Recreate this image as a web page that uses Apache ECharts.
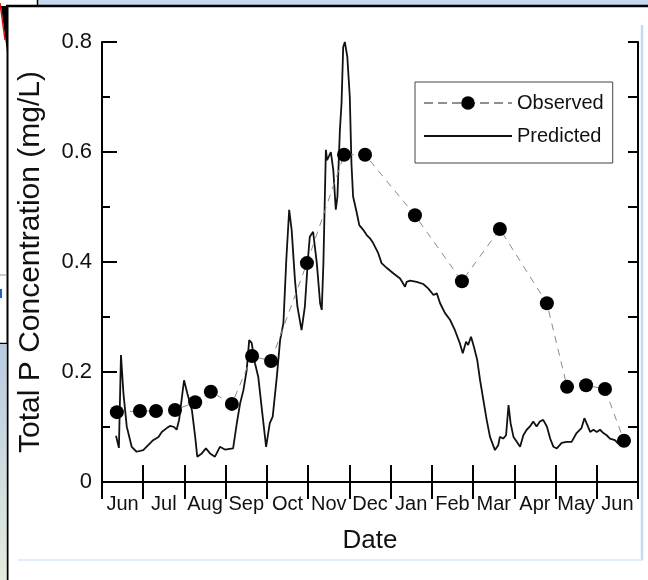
<!DOCTYPE html>
<html>
<head>
<meta charset="utf-8">
<script src="https://cdn.jsdelivr.net/npm/echarts@6/dist/echarts.min.js"></script>
<style>
  html, body { margin: 0; padding: 0; background: #fff; }
  #chart { width: 648px; height: 580px; }
</style>
</head>
<body>
<div id="chart"></div>
<script>
// Month labels along the bottom axis (one band per month)
const monthLabels = ['Jun', 'Jul', 'Aug', 'Sep', 'Oct', 'Nov', 'Dec', 'Jan', 'Feb', 'Mar', 'Apr', 'May', 'Jun'];

// Y tick values (mg/L)
const yTicks = [0, 0.2, 0.4, 0.6, 0.8];

// Observed samples: time in months since start of June, total P in mg/L
const observedMonth = [0.36, 0.92, 1.31, 1.77, 2.26, 2.64, 3.15, 3.64, 4.10, 4.97,
                       5.87, 6.38, 7.59, 8.73, 9.65, 10.79, 11.28, 11.74, 12.20, 12.66];
const observedConc  = [0.127, 0.129, 0.129, 0.131, 0.145, 0.164, 0.142, 0.229, 0.220, 0.398,
                       0.595, 0.595, 0.485, 0.365, 0.460, 0.325, 0.173, 0.176, 0.169, 0.075];

// Model prediction: time in months since start of June, total P in mg/L
const predictedMonth = [
  0.34, 0.41, 0.46, 0.52, 0.60, 0.72, 0.84, 1.00, 1.12, 1.24, 1.37, 1.45, 1.57, 1.65, 1.75, 1.81, 1.87, 1.94, 1.99, 2.07,
  2.18, 2.26, 2.31, 2.42, 2.52, 2.62, 2.74, 2.86, 2.98, 3.18, 3.27, 3.35, 3.43, 3.51, 3.57, 3.63, 3.71, 3.79, 3.87, 3.98,
  4.07, 4.14, 4.24, 4.32, 4.40, 4.47, 4.54, 4.60, 4.68, 4.74, 4.84, 4.92, 5.00, 5.04, 5.12, 5.21, 5.29, 5.33, 5.37, 5.43,
  5.46, 5.55, 5.61, 5.67, 5.71, 5.77, 5.81, 5.85, 5.89, 5.95, 6.01, 6.05, 6.09, 6.18, 6.24, 6.34, 6.42, 6.50, 6.58, 6.70,
  6.78, 6.91, 7.07, 7.23, 7.35, 7.39, 7.47, 7.63, 7.79, 7.91, 8.04, 8.12, 8.20, 8.32, 8.44, 8.56, 8.68, 8.75, 8.83, 8.88,
  8.95, 9.02, 9.10, 9.17, 9.25, 9.33, 9.41, 9.53, 9.61, 9.65, 9.73, 9.80, 9.86, 9.91, 9.98, 10.06, 10.14, 10.22, 10.30, 10.38,
  10.46, 10.54, 10.62, 10.70, 10.79, 10.87, 10.95, 11.03, 11.15, 11.27, 11.39, 11.51, 11.63, 11.70, 11.77, 11.84, 11.92, 12.00, 12.08, 12.16,
  12.24, 12.32, 12.44, 12.52, 12.64
];
const predictedConc = [
  0.084, 0.062, 0.231, 0.161, 0.101, 0.064, 0.055, 0.058, 0.067, 0.076, 0.082, 0.091, 0.098, 0.102, 0.100, 0.095, 0.113, 0.155, 0.185, 0.161,
  0.131, 0.082, 0.046, 0.052, 0.061, 0.052, 0.046, 0.064, 0.059, 0.061, 0.107, 0.143, 0.167, 0.204, 0.258, 0.253, 0.216, 0.191, 0.137, 0.064,
  0.107, 0.119, 0.191, 0.258, 0.289, 0.404, 0.495, 0.458, 0.367, 0.319, 0.276, 0.319, 0.410, 0.446, 0.455, 0.398, 0.325, 0.313, 0.398, 0.604,
  0.585, 0.600, 0.567, 0.495, 0.519, 0.640, 0.689, 0.791, 0.800, 0.773, 0.700, 0.579, 0.519, 0.489, 0.467, 0.458, 0.449, 0.443, 0.434, 0.416,
  0.398, 0.389, 0.379, 0.370, 0.355, 0.364, 0.366, 0.364, 0.360, 0.352, 0.340, 0.343, 0.325, 0.307, 0.295, 0.276, 0.252, 0.234, 0.255, 0.249,
  0.264, 0.246, 0.222, 0.185, 0.149, 0.113, 0.082, 0.058, 0.067, 0.082, 0.079, 0.085, 0.140, 0.107, 0.082, 0.073, 0.064, 0.085, 0.095, 0.101,
  0.110, 0.101, 0.110, 0.113, 0.101, 0.079, 0.064, 0.061, 0.071, 0.073, 0.073, 0.089, 0.098, 0.116, 0.104, 0.091, 0.095, 0.091, 0.095, 0.089,
  0.085, 0.079, 0.076, 0.070, 0.073
];

const FONT = '"Liberation Sans", Arial, sans-serif';
const INK = '#111';

const zip = (xs, ys) => xs.map((x, i) => [x, ys[i]]);

const chart = echarts.init(document.getElementById('chart'), null, { renderer: 'canvas' });

const frameAxis = { lineStyle: { color: '#000', width: 2 } };

chart.setOption({
  backgroundColor: '#fff',
  animation: false,
  grid: { left: 102, right: 10, top: 42, bottom: 98, containLabel: false },
  xAxis: [
    { // month bands, labels and ticks along the bottom
      type: 'category', position: 'bottom', data: monthLabels, boundaryGap: true,
      axisLine: frameAxis,
      axisTick: { show: true, inside: true, length: 17, interval: 0, lineStyle: { color: '#000', width: 2 } },
      axisLabel: { interval: 0, margin: 12, color: INK, fontFamily: FONT, fontSize: 20 },
      splitLine: { show: false },
      name: 'Date', nameLocation: 'middle', nameGap: 46,
      nameTextStyle: { color: INK, fontFamily: FONT, fontSize: 26 }
    },
    { // top frame with month ticks
      type: 'category', position: 'top', data: monthLabels, boundaryGap: true,
      axisLine: frameAxis,
      axisTick: { show: true, inside: true, length: 17, interval: 0, lineStyle: { color: '#000', width: 2 } },
      axisLabel: { show: false }, splitLine: { show: false }
    },
    { // continuous time scale in months used by the series
      type: 'value', min: 0, max: 13, show: false, position: 'bottom'
    }
  ],
  yAxis: [
    {
      type: 'value', position: 'left', min: yTicks[0], max: yTicks[yTicks.length - 1], interval: yTicks[1] - yTicks[0],
      axisLine: { show: true, lineStyle: { color: '#000', width: 2 } },
      axisTick: { show: true, inside: true, length: 15, lineStyle: { color: '#000', width: 2 } },
      minorTick: { show: true, splitNumber: 2, length: 8, lineStyle: { color: '#000', width: 2 } },
      axisLabel: {
        margin: 10, color: INK, fontFamily: FONT, fontSize: 22,
        formatter: v => (v === 0 ? '0' : v.toFixed(1))
      },
      splitLine: { show: false },
      name: 'Total P Concentration (mg/L)', nameLocation: 'middle', nameGap: 56,
      nameTextStyle: { color: INK, fontFamily: FONT, fontSize: 30 }
    },
    {
      type: 'value', position: 'right', min: 0, max: 0.8, interval: 0.1,
      axisLine: { show: true, lineStyle: { color: '#000', width: 2 } },
      axisTick: { show: true, inside: true, length: 10, lineStyle: { color: '#000', width: 2 } },
      axisLabel: { show: false }, splitLine: { show: false }
    }
  ],
  legend: {
    orient: 'vertical', left: 415, top: 82,
    padding: [11, 9, 17, 8], itemGap: 13, itemWidth: 88, itemHeight: 17,
    borderColor: '#444', borderWidth: 1, backgroundColor: '#fff',
    textStyle: { color: INK, fontFamily: FONT, fontSize: 20 },
    data: [
      { name: 'Observed', itemStyle: { color: '#000', borderWidth: 0 }, lineStyle: { color: '#222', type: [9, 5], width: 1.2 } },
      { name: 'Predicted', itemStyle: { color: 'rgba(0,0,0,0)', borderWidth: 0 }, lineStyle: { color: '#111', width: 2 } }
    ]
  },
  series: [
    {
      name: 'Predicted', type: 'line', xAxisIndex: 2, yAxisIndex: 0,
      data: zip(predictedMonth, predictedConc),
      showSymbol: false, symbol: 'circle', smooth: false, clip: false,
      lineStyle: { color: '#111', width: 1.8 }, itemStyle: { color: '#111' },
      z: 2
    },
    {
      name: 'Observed', type: 'line', xAxisIndex: 2, yAxisIndex: 0,
      data: zip(observedMonth, observedConc),
      symbol: 'circle', symbolSize: 14, showSymbol: true,
      lineStyle: { color: '#8a8a8a', width: 1, type: [7, 6] },
      itemStyle: { color: '#000', borderWidth: 0 },
      z: 3
    }
  ],
  graphic: [
    // slide frame around the figure
    { type: 'rect', shape: { x: 38, y: 0, width: 610, height: 5 }, style: { fill: '#c6d7ee' }, silent: true },
    { type: 'line', shape: { x1: 37.5, y1: 0, x2: 37.5, y2: 5 }, style: { stroke: '#000', lineWidth: 1.5 }, silent: true },
    { type: 'line', shape: { x1: 6, y1: 6, x2: 648, y2: 6 }, style: { stroke: '#000', lineWidth: 2.5 }, silent: true },
    { type: 'line', shape: { x1: 7.5, y1: 6, x2: 7.5, y2: 580 }, style: { stroke: '#000', lineWidth: 2 }, silent: true },
    { type: 'polygon', shape: { points: [[1, 6], [7, 6], [7, 52]] }, style: { fill: '#000' }, silent: true },
    { type: 'line', shape: { x1: 0, y1: 3, x2: 5, y2: 40 }, style: { stroke: '#e01010', lineWidth: 1.5 }, silent: true },
    { type: 'line', shape: { x1: 0, y1: 275, x2: 7, y2: 275 }, style: { stroke: '#999', lineWidth: 1 }, silent: true },
    { type: 'rect', shape: { x: 0, y: 289, width: 2, height: 9 }, style: { fill: '#2060c0' }, silent: true },
    { type: 'line', shape: { x1: 0, y1: 343.5, x2: 7, y2: 343.5 }, style: { stroke: '#000', lineWidth: 1.5 }, silent: true },
    {
      type: 'rect', shape: { x: 0, y: 344, width: 6.5, height: 236 }, silent: true,
      style: {
        fill: new echarts.graphic.LinearGradient(0, 0, 0, 1, [
          { offset: 0, color: '#b7cbe3' }, { offset: 1, color: '#e4ecdc' }
        ])
      }
    },
    { type: 'line', shape: { x1: 642, y1: 25, x2: 642, y2: 560 }, style: { stroke: '#c6d9f0', lineWidth: 2.5 }, silent: true },
    { type: 'line', shape: { x1: 18, y1: 560, x2: 643, y2: 560 }, style: { stroke: '#d8e6f7', lineWidth: 1.5 }, silent: true }
  ]
});
</script>
</body>
</html>
